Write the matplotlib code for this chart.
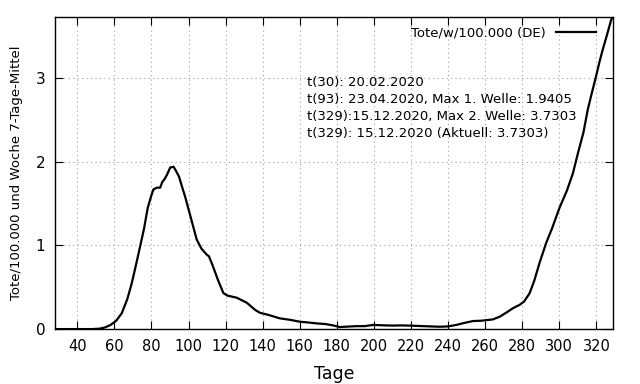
import numpy as np
import matplotlib
matplotlib.use("Agg")
import matplotlib.pyplot as plt

# Tage seit Beginn und Tote/100.000 pro Woche (7-Tage-Mittel)
days = [28, 35, 42, 48, 52, 55, 58, 61, 64, 67, 69.4, 72, 74, 76, 78, 80, 81.1,
        83, 84.7, 85.9, 87, 88.3, 90.1, 91.9, 93, 94.9, 96.5, 98.2, 101, 104.4,
        107, 109.8, 111, 113, 116, 118.8, 121, 126, 131.4, 135.9, 138.5, 143,
        149.3, 155, 160, 165, 169, 174, 178, 181.6, 186, 190.6, 195, 199.6, 205,
        210, 215, 221, 228, 235.5, 240, 244.5, 249, 253.4, 258, 264.2, 268,
        272.3, 275, 278.6, 281, 284, 286.5, 289.3, 292.9, 296, 298.3, 300.1, 304,
        307.3, 310, 313, 315.3, 317.5, 319.8, 321.5, 323.4, 325.5, 327, 328, 329]
deaths = [0.0, 0.0, 0.0, 0.0, 0.005, 0.02, 0.05, 0.1, 0.19, 0.36, 0.55, 0.8,
          1.0, 1.2, 1.45, 1.6, 1.67, 1.69, 1.69, 1.76, 1.79, 1.84, 1.93, 1.94,
          1.9, 1.82, 1.7, 1.58, 1.35, 1.07, 0.96, 0.89, 0.87, 0.76, 0.58, 0.43,
          0.4, 0.375, 0.315, 0.23, 0.195, 0.17, 0.128, 0.11, 0.088, 0.078, 0.068,
          0.06, 0.044, 0.024, 0.03, 0.035, 0.035, 0.05, 0.045, 0.042, 0.044, 0.04,
          0.034, 0.028, 0.032, 0.05, 0.075, 0.096, 0.1, 0.116, 0.15, 0.21, 0.25,
          0.29, 0.33, 0.43, 0.58, 0.79, 1.03, 1.2, 1.34, 1.45, 1.65, 1.86, 2.1,
          2.35, 2.62, 2.82, 3.02, 3.18, 3.34, 3.5, 3.62, 3.7, 3.7303]

info_lines = [
    "t(30): 20.02.2020",
    "t(93): 23.04.2020, Max 1. Welle: 1.9405",
    "t(329):15.12.2020, Max 2. Welle: 3.7303",
    "t(329): 15.12.2020 (Aktuell: 3.7303)",
]

fig = plt.figure(figsize=(6.4, 3.84), dpi=100)
ax = fig.add_axes([0.086, 0.143, 0.872, 0.813])

ax.plot(days, deaths, color="black", lw=1.6, label="Tote/w/100.000 (DE)")

ax.set_xlim(28, 329)
ax.set_ylim(0, max(deaths))
ax.set_xticks(np.arange(40, 321, 20))
ax.set_yticks([0, 1, 2, 3])
ax.tick_params(axis="x", labelsize=10.5, direction="in", top=True, length=6, pad=7)
ax.tick_params(axis="y", labelsize=11, direction="in", right=True, length=6, pad=7)
ax.grid(True, color="#a0a0a0", linestyle=(0, (1, 3)), lw=0.8)
for s in ax.spines.values():
    s.set_linewidth(1.0)

ax.set_xlabel("Tage", fontsize=12.5, labelpad=8)
ax.set_ylabel("Tote/100.000 und Woche 7-Tage-Mittel", fontsize=9.5, labelpad=9)

ax.text(0.4516, 0.812, "\n".join(info_lines), transform=ax.transAxes,
        fontsize=9.5, va="top", ha="left", linespacing=1.4)

ax.legend(loc="upper right", frameon=False, fontsize=9.5, markerfirst=False,
          handlelength=3.0, borderaxespad=0.3, bbox_to_anchor=(0.985, 0.998))

fig.savefig("out.png", dpi=100)
